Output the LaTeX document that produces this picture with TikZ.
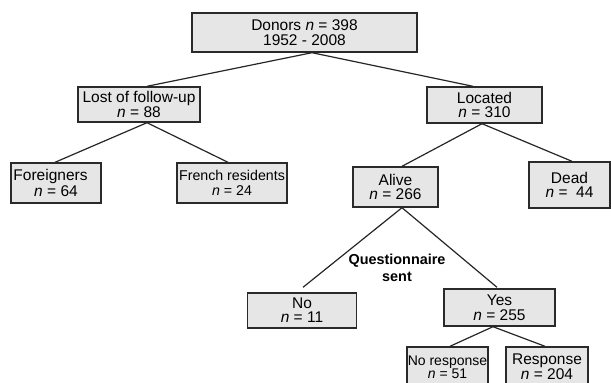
\documentclass[tikz,border=0pt]{standalone}
\usepackage{fontspec}
\setmainfont{Liberation Sans}
\definecolor{boxfill}{HTML}{E6E6E6}
\definecolor{boxline}{HTML}{2A2A2A}
\tikzset{
  bx/.style={draw=boxline, line width=1.4pt, fill=boxfill, rectangle, inner sep=0pt, align=center, text=black},
  big/.style={font=\fontsize{15.5}{14}\selectfont},
  small/.style={font=\fontsize{14}{13}\selectfont},
  conn/.style={draw=black!85, line width=1.2pt}
}
\begin{document}
\begin{tikzpicture}[x=1pt,y=-1pt]
\clip (0,0) rectangle (611,383);
\useasboundingbox (0,0) rectangle (611,383);
\fill[white] (0,0) rectangle (611,383);
% boxes
\node[bx, minimum width=225pt, minimum height=39pt, font=\fontsize{15.5}{15.5}\selectfont] (donors) at (304.5,32.5) {Donors \textit{n} = 398\\1952 - 2008};
\node[bx, big, minimum width=122pt, minimum height=35pt] (lost) at (139,104.5) {Lost of follow-up\\\textit{n} = 88};
\node[bx, big, minimum width=115pt, minimum height=36pt] (located) at (484.5,105) {Located\\\textit{n} = 310};
\node[bx, minimum width=90pt, minimum height=40pt, font=\fontsize{15.5}{16}\selectfont] (foreign) at (56,183) {Foreigners\hspace*{11pt}\\\textit{n} = 64};
\node[bx, minimum width=110pt, minimum height=40pt, font=\fontsize{14.2}{15}\selectfont] (french) at (232,183) {French residents\\\textit{n} = 24};
\node[bx, minimum width=85pt, minimum height=40pt, font=\fontsize{15.5}{14.5}\selectfont] (alive) at (395.5,187) {Alive\\\textit{n} = 266};
\node[bx, minimum width=81pt, minimum height=46pt, font=\fontsize{15.5}{14.5}\selectfont] (dead) at (569.5,185) {Dead\\\textit{n} = \ 44};
\node[bx, minimum width=109pt, minimum height=35pt, font=\fontsize{15.5}{14}\selectfont] (no) at (302,310.5) {No\\\textit{n} = 11};
\node[bx, minimum width=111pt, minimum height=37pt, font=\fontsize{15.5}{15}\selectfont] (yes) at (499.5,307.5) {Yes\\\textit{n} = 255};
\node[bx, minimum width=81pt, minimum height=40pt, font=\fontsize{14}{13}\selectfont] (noresp) at (447.5,367) {No response\\\textit{n} = 51};
\node[bx, minimum width=82pt, minimum height=40pt, font=\fontsize{15.5}{13}\selectfont] (resp) at (547,367) {Response\\\textit{n} = 204};
% label
\node[font=\fontsize{14.4}{16.5}\selectfont\bfseries, align=center, inner sep=0pt] (qs) at (397,268) {Questionnaire\\sent};
% connectors
\draw[conn] ([xshift=7.5pt]donors.south) -- ([xshift=8pt]lost.north);
\draw[conn] ([xshift=7.5pt]donors.south) -- ([xshift=-11.5pt]located.north);
\draw[conn] ([xshift=8pt]lost.south) -- ([xshift=-1pt]foreign.north);
\draw[conn] ([xshift=8pt]lost.south) -- ([xshift=-4pt]french.north);
\draw[conn] ([xshift=-2.5pt]located.south) -- ([xshift=6.5pt]alive.north);
\draw[conn] ([xshift=-2.5pt]located.south) -- ([xshift=2.5pt]dead.north);
\draw[conn] ([xshift=6.5pt]alive.south) -- ([xshift=1pt,yshift=5pt]no.north);
\draw[conn] ([xshift=6.5pt]alive.south) -- ([xshift=-2.5pt,yshift=1pt]yes.north);
\draw[conn] ([xshift=-6.5pt]yes.south) -- ([xshift=2.5pt]noresp.north);
\draw[conn] ([xshift=-6.5pt]yes.south) -- ([xshift=-2pt]resp.north);
\end{tikzpicture}
\end{document}
